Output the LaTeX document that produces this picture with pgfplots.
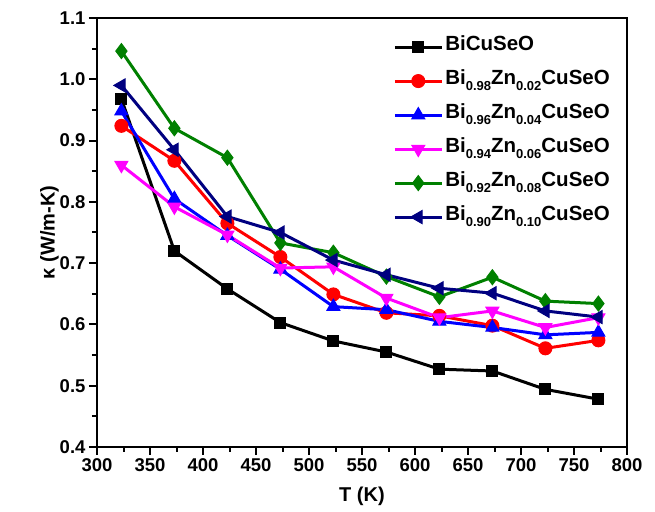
\documentclass[border=0pt]{standalone}
\usepackage{pgfplots}
\pgfplotsset{compat=1.18}
\usepackage{fontspec}
\setmainfont{Liberation Sans}
\newcommand\sub[1]{\raisebox{-0.55ex}{\fontsize{13}{13}\selectfont #1}}
\definecolor{mygreen}{RGB}{0,128,0}
\definecolor{mynavy}{RGB}{0,0,128}
\definecolor{mymag}{RGB}{255,0,255}
\definecolor{myred}{RGB}{255,0,0}
\definecolor{myblue}{RGB}{0,0,255}
\begin{document}
\begin{tikzpicture}
\begin{axis}[
  scale only axis, width=530pt, height=429pt,
  xmin=300, xmax=800, ymin=0.4, ymax=1.1,
  xtick={300,350,...,800}, ytick={0.4,0.5,...,1.1},
  minor tick num=1,
  tick align=outside, xtick pos=bottom, ytick pos=left,
  major tick length=8pt, minor tick length=5pt,
  every tick/.style={line width=2pt, black},
  axis line style={line width=2.5pt},
  /pgf/number format/assume math mode=true,
  yticklabel style={/pgf/number format/.cd, fixed, fixed zerofill, precision=1},
  xticklabel style={/pgf/number format/.cd, fixed, 1000 sep={}},
  tick label style={font=\fontsize{18.5}{21}\selectfont\bfseries},
  label style={font=\fontsize{20}{23}\selectfont\bfseries},
  xlabel={T (K)}, ylabel={κ (W/m-K)},
  xlabel style={yshift=-8pt}, ylabel style={yshift=-6pt},
  legend style={draw=none, fill=none, at={(0.553,0.97)}, anchor=north west,
    font=\fontsize{20.5}{23}\selectfont\bfseries, row sep=6pt,
    nodes={text height=15pt, text depth=9pt},
    /tikz/every even column/.append style={column sep=0pt}},
  legend cell align=left,
  legend image code/.code={
    \draw[mark repeat=2,mark phase=2,#1] plot coordinates {(0pt,0pt)(23.5pt,0pt)(47pt,0pt)};},
  every axis plot/.append style={line width=3pt},
]
\addplot[black, mark=square*, mark size=5.5pt, mark options={line width=1pt}] coordinates {
(323,0.968)(373,0.720)(423,0.658)(473,0.603)(523,0.573)(573,0.555)(623,0.527)(673,0.524)(723,0.494)(773,0.478)};
\addlegendentry{BiCuSeO}
\addplot[myred, mark=*, mark size=6.5pt, mark options={line width=1pt}] coordinates {
(323,0.924)(373,0.867)(423,0.765)(473,0.710)(523,0.649)(573,0.619)(623,0.614)(673,0.598)(723,0.561)(773,0.574)};
\addlegendentry{Bi\sub{0.98}Zn\sub{0.02}CuSeO}
\addplot[myblue, mark=triangle*, mark size=7.5pt, mark options={line width=1pt}] coordinates {
(323,0.948)(373,0.805)(423,0.745)(473,0.690)(523,0.629)(573,0.624)(623,0.605)(673,0.595)(723,0.583)(773,0.587)};
\addlegendentry{Bi\sub{0.96}Zn\sub{0.04}CuSeO}
\addplot[mymag, mark=triangle*, mark size=7.5pt, mark options={rotate=180, line width=1pt}] coordinates {
(323,0.860)(373,0.792)(423,0.746)(473,0.692)(523,0.694)(573,0.643)(623,0.611)(673,0.622)(723,0.595)(773,0.611)};
\addlegendentry{Bi\sub{0.94}Zn\sub{0.06}CuSeO}
\addplot[mygreen, mark=diamond*, mark size=7.5pt, mark options={line width=1pt}] coordinates {
(323,1.046)(373,0.920)(423,0.872)(473,0.733)(523,0.717)(573,0.678)(623,0.645)(673,0.677)(723,0.638)(773,0.634)};
\addlegendentry{Bi\sub{0.92}Zn\sub{0.08}CuSeO}
\addplot[mynavy, mark=triangle*, mark size=7.5pt, mark options={rotate=90, line width=1pt}] coordinates {
(323,0.990)(373,0.885)(423,0.776)(473,0.750)(523,0.705)(573,0.681)(623,0.659)(673,0.651)(723,0.622)(773,0.612)};
\addlegendentry{Bi\sub{0.90}Zn\sub{0.10}CuSeO}
\end{axis}
\path (current axis.south west) ++(-97pt,-65pt);
\path (current axis.north east) ++(28pt,18pt);
\end{tikzpicture}
\end{document}
